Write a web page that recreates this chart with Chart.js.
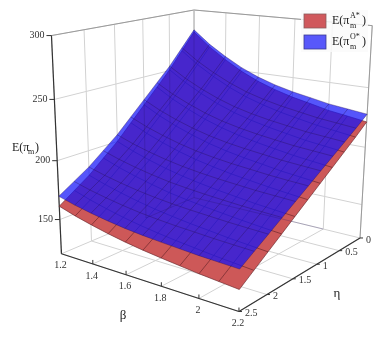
<!DOCTYPE html>
<html>
<head>
<meta charset="utf-8">
<script src="https://cdn.jsdelivr.net/npm/chart.js@4"></script>
<style>html,body{margin:0;background:#fff}canvas{display:block;filter:blur(.35px)}</style>
</head>
<body>
<canvas id="c" width="388" height="345"></canvas>
<script>
// ----- data -----
const betaTicks = [1.2, 1.4, 1.6, 1.8, 2, 2.2];
const etaTicks = [0, 0.5, 1, 1.5, 2, 2.5];
const zTicks = [150, 200, 250, 300];
const betaGrid = [1.2, 1.3, 1.4, 1.5, 1.6, 1.7, 1.8, 1.9, 2, 2.1, 2.2];
const etaGrid = [0, 0.25, 0.5, 0.75, 1, 1.25, 1.5, 1.75, 2, 2.25, 2.5];
const zFloor = 120;
// rows follow etaGrid, columns follow betaGrid
const zRed = [
  [280, 268, 258.1, 249.5, 242.6, 237.3, 233, 229.7, 226.2, 223.9, 221.5],
  [265.4, 254.6, 245.7, 238, 231.8, 227, 223.1, 220, 217, 214.8, 212.6],
  [250.7, 241.3, 233.5, 226.8, 221.3, 217.1, 213.7, 210.9, 208.1, 206.2, 204.2],
  [238, 229.5, 222.6, 216.5, 211.6, 207.7, 204.6, 202, 199.5, 197.6, 195.8],
  [225.4, 217.9, 211.6, 206.3, 201.8, 198.3, 195.5, 193.2, 190.8, 189.1, 187.4],
  [212.8, 206.2, 200.7, 195.9, 192, 188.9, 186.3, 184.2, 182.2, 180.5, 179],
  [200.1, 194.4, 189.7, 185.6, 182.2, 179.5, 177.2, 175.3, 173.4, 172, 170.6],
  [189.5, 184.3, 180, 176.3, 173, 170.6, 168.5, 166.7, 165, 163.5, 162.2],
  [178.8, 174.2, 170.3, 166.9, 164, 161.7, 159.7, 158.1, 156.4, 155.1, 153.8],
  [170.2, 165.6, 161.8, 158.4, 155.6, 153.3, 151.3, 149.7, 148, 146.7, 145.4],
  [161.5, 157, 153.3, 150, 147.2, 144.9, 143, 141.3, 139.6, 138.3, 137],
];
const zBlue = [
  [282, 270.4, 261, 252.8, 246.4, 241.5, 237.7, 234.8, 231.8, 229.9, 228],
  [268, 257.7, 249.3, 242.1, 236.3, 232, 228.6, 226, 223.4, 221.7, 220],
  [254, 245.1, 237.8, 231.6, 226.6, 222.9, 220, 217.7, 215.4, 214, 212.5],
  [242, 234, 227.6, 222, 217.6, 214.3, 211.7, 209.6, 207.6, 206.3, 205],
  [230, 223, 217.3, 212.5, 208.6, 205.6, 203.4, 201.6, 199.8, 198.6, 197.5],
  [218, 212, 207.1, 202.9, 199.5, 197, 195, 193.5, 192, 190.9, 190],
  [206, 200.9, 196.8, 193.3, 190.5, 188.4, 186.7, 185.4, 184.1, 183.3, 182.5],
  [196, 191.5, 187.8, 184.7, 182.1, 180.3, 178.8, 177.6, 176.5, 175.7, 175],
  [186, 182, 178.8, 176, 173.8, 172.1, 170.8, 169.8, 168.8, 168.1, 167.5],
  [178, 174.1, 171, 168.3, 166.1, 164.5, 163.2, 162.3, 161.3, 160.6, 160],
  [170, 166.2, 163.2, 160.6, 158.5, 156.9, 155.7, 154.7, 153.7, 153.1, 152.5],
];

// ----- camera: perspective box, fitted to the corners of the picture -----
const cam = {o:[194,197.6], ex:[122.5,11.6], ey:[-141.6,18.8], ez:[-11.6,-188.2], px:-.1209, py:-.1472, pz:-.06};
const project = (beta,eta,z) => {
  const a = beta-1.2, b = eta/2.5, c = (z-zFloor)/(300-zFloor);
  const w = 1 + a*cam.px + b*cam.py + c*cam.pz;
  return {x:(cam.o[0]+a*cam.ex[0]+b*cam.ey[0]+c*cam.ez[0])/w,
          y:(cam.o[1]+a*cam.ex[1]+b*cam.ey[1]+c*cam.ez[1])/w};
};

// ----- datasets, listed in paint order -----
const sets = [];
const line = (pts,color,width) => sets.push({data:pts,borderColor:color,borderWidth:width,pointRadius:0,fill:false,showLine:true});
const GRID = '#d2d2d2', FRAME = '#9a9a9a', AXIS = '#333', GHOST = 'rgba(35,15,95,.3)';
const [b0,b1] = [betaTicks[0],betaTicks[5]], [e0,e1] = [etaTicks[0],etaTicks[5]], zTop = 300;

// back walls and floor
etaTicks.forEach(e=>{
  line([project(b0,e,zFloor),project(b0,e,zTop)],GRID,1);
  line([project(b0,e,zFloor),project(b1,e,zFloor)],GRID,1);
});
betaTicks.forEach(b=>{
  line([project(b,e0,zFloor),project(b,e0,zTop)],GRID,1);
  line([project(b,e0,zFloor),project(b,e1,zFloor)],GRID,1);
});
zTicks.forEach(z=>{
  line([project(b0,e1,z),project(b0,e0,z),project(b1,e0,z)],GRID,1);
});
line([project(b0,e1,zTop),project(b0,e0,zTop),project(b1,e0,zTop),project(b1,e0,zFloor)],FRAME,1);
line([project(b0,e0,zFloor),project(b0,e0,zTop)],'#bbb',1);

// axes with their ticks
line([project(b0,e1,zFloor),project(b0,e1,zTop)],AXIS,1.2);
line([project(b0,e1,zFloor),project(b1,e1,zFloor)],AXIS,1.2);
line([project(b1,e1,zFloor),project(b1,e0,zFloor)],AXIS,1.2);
const offs = (p,dx,dy) => ({x:p.x+dx,y:p.y+dy});
zTicks.forEach(z=>{const p=project(b0,e1,z); line([p,offs(p,-5,0)],AXIS,1);});
betaTicks.forEach(b=>{const p=project(b,e1,zFloor); line([p,offs(p,0,-4)],AXIS,1);});
etaTicks.forEach(e=>{const p=project(b1,e,zFloor); line([p,offs(p,3,0)],AXIS,1);});

// one surface: translucent sheet plus its mesh
function surface(grid,fillCol,meshCol){
  const pt = (i,j) => project(betaGrid[i],etaGrid[j],grid[j][i]);
  const n = betaGrid.length, m = etaGrid.length, edge = [];
  for(let i=0;i<n;i++) edge.push(pt(i,0));
  for(let j=1;j<m;j++) edge.push(pt(n-1,j));
  for(let i=n-2;i>=0;i--) edge.push(pt(i,m-1));
  for(let j=m-2;j>=0;j--) edge.push(pt(0,j));
  sets.push({data:edge,borderColor:'rgba(0,0,0,0)',borderWidth:0,backgroundColor:fillCol,pointRadius:0,fill:'shape',showLine:true});
  for(let j=0;j<m;j++) line(betaGrid.map((_,i)=>pt(i,j)),meshCol,.9);
  for(let i=0;i<n;i++) line(etaGrid.map((_,j)=>pt(i,j)),meshCol,.9);
}
surface(zRed,'rgb(205,88,88)','rgba(100,35,40,.7)');
surface(zBlue,'rgba(20,20,250,.72)','rgba(40,15,90,.42)');

// the box lines behind the sheets still show faintly through them
[0.5,1].forEach(e=>line([project(b0,e,zFloor),project(b0,e,zBlue[etaGrid.indexOf(e)][0])],GHOST,.8));
line([project(b0,e0,zFloor),project(b0,e0,zBlue[0][0])],GHOST,.8);
line([project(b0,1,zFloor),project(b0,e0,zFloor),project(2,e0,zFloor)],GHOST,.8);

// ----- text: ticks, axis titles, legend -----
const serif = 'Liberation Serif';
const textPlugin = {id:'text3d', afterDraw(ch){
  const g = ch.ctx, sx = ch.scales.x, sy = ch.scales.y;
  const put = (s,p,dx,dy,al,size,col='#333') => {
    g.font = size+'px "'+serif+'"'; g.fillStyle = col; g.textAlign = al; g.textBaseline = 'middle';
    g.fillText(s, sx.getPixelForValue(p.x)+dx, sy.getPixelForValue(p.y)+dy);
  };
  zTicks.forEach(z=>put(String(z),project(b0,e1,z),-7,0,'right',10));
  betaTicks.forEach(b=>put(String(b),project(b,e1,zFloor),-1,12,'center',10));
  etaTicks.forEach(e=>put(String(e),project(b1,e,zFloor),6,2,'left',10));
  put('β',{x:123,y:316},0,0,'center',13,'#222');
  put('η',{x:337,y:294},0,0,'center',13,'#222');
  put('E(π',{x:12,y:148},0,0,'left',12,'#222');
  put('m',{x:28,y:152},0,0,'left',8,'#222');
  put(')',{x:35,y:148},0,0,'left',12,'#222');
  // legend
  g.fillStyle = 'rgba(250,250,250,.85)'; g.fillRect(301,10,67,42);
  [['rgb(208,88,92)','#8a5a5a','A*',21],['rgb(88,88,250)','#3a3a90','O*',42]].forEach(([c,e,sup,y])=>{
    g.fillStyle = c; g.fillRect(304,y-7,22,14);
    g.strokeStyle = e; g.lineWidth = .8; g.strokeRect(304,y-7,22,14);
    put('E(π',{x:332,y},0,0,'left',12,'#222');
    put(sup,{x:350,y:y-5},0,0,'left',8,'#222');
    put('m',{x:350,y:y+4.5},0,0,'left',8,'#222');
    put(')',{x:362,y},0,0,'left',12,'#222');
  });
}};

new Chart(document.getElementById('c'),{
  type:'scatter',
  data:{datasets:sets.reverse()},   // first dataset is painted last
  options:{responsive:false,animation:false,
    layout:{padding:0},
    plugins:{legend:{display:false},tooltip:{enabled:false}},
    scales:{x:{type:'linear',display:false,min:0,max:388},y:{type:'linear',display:false,min:0,max:345,reverse:true}}},
  plugins:[textPlugin]
});
</script>
</body>
</html>
